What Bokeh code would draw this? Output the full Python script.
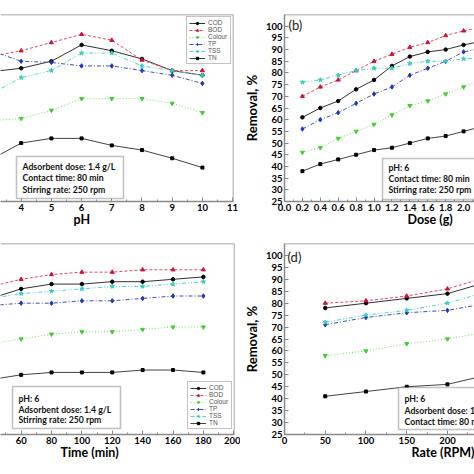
from bokeh.plotting import figure
from bokeh.layouts import row, column
from bokeh.models import (Range1d, Span, Label, Title, SingleIntervalTicker, FixedTicker,
                          PrintfTickFormatter, BoxAnnotation)
from bokeh.embed import file_html
from bokeh.resources import INLINE

SERIES = ["COD", "BOD", "Colour", "TP", "TSS", "TN"]

# (a) effect of pH
ph = [3, 4, 5, 6, 7, 8, 9, 10]
ph_cod = [80.5, 82, 85, 92, 89.5, 86, 81, 79]
ph_bod = [87, 89.5, 93, 96.5, 94, 85.5, 81, 81]
ph_colour = [59.5, 60.5, 64, 69, 69, 69, 67, 63]
ph_tp = [89.5, 85, 84.5, 83, 83, 81, 79, 75.5]
ph_tss = [71, 78, 81, 88.5, 88.5, 83, 81, 79]
ph_tn = [43, 50, 52, 52, 49, 47, 43.5, 39.5]

# (b) effect of dose
dose = [0.2, 0.4, 0.6, 0.8, 1.0, 1.2, 1.4, 1.6, 1.8, 2.0, 2.2]
dose_cod = [61, 65, 68, 73, 77, 83, 87, 89, 90, 92, 93.5]
dose_bod = [70, 74, 77, 81, 85, 88, 91, 93, 96, 98, 99.5]
dose_colour = [46, 48, 52, 55, 58, 62, 66, 68, 71, 74, 77]
dose_tp = [56, 60, 63, 67, 71, 74, 79, 82, 85, 89, 90.5]
dose_tss = [76, 77, 79, 81, 82, 82, 84, 85, 85, 86, 86.5]
dose_tn = [38, 41, 43, 45, 47, 48, 50, 52, 53, 55, 57]

# (c) effect of contact time
time_min = [40, 60, 80, 100, 120, 140, 160, 180]
time_cod = [82, 86, 88, 88, 89, 89, 90, 91]
time_bod = [87, 90, 92, 93, 93, 94, 94, 94]
time_colour = [63, 65, 67, 68, 68, 69, 70, 70]
time_tp = [79, 80, 80, 81, 81, 82, 83, 83]
time_tss = [82, 84, 85, 86, 87, 87, 88, 89]
time_tn = [48, 50, 51, 51, 51, 52, 52, 51]

# (d) effect of stirring rate
rate = [50, 100, 150, 200, 250]
rate_cod = [78, 80, 82, 84, 89]
rate_bod = [80, 81, 83, 86, 91]
rate_colour = [58, 60, 63, 65, 68]
rate_tp = [71, 74, 76, 77, 80]
rate_tss = [72, 75, 77, 80, 85]
rate_tn = [41, 43, 45, 46, 50]

Y_TICKS = list(range(25, 101, 5))

STYLE = {
    "COD": dict(line="#333333", mark="#000000", dash="solid", marker="circle", size=3.5),
    "BOD": dict(line="#e04a60", mark="#d0103a", dash="3 2", marker="triangle", size=4),
    "Colour": dict(line="#78dd66", mark="#44cc33", dash="1 2", marker="inverted_triangle", size=4),
    "TP": dict(line="#4050b8", mark="#2233bb", dash="4 2 1 2", marker="diamond", size=4.5),
    "TSS": dict(line="#48d8c8", mark="#30d0c0", dash="4 2 1 2 1 2", marker="star", size=4.5),
    "TN": dict(line="#444444", mark="#000000", dash="solid", marker="square", size=3),
}

FONT = "Lato"
AX = "#8a8a8a"


def make_panel(width, height, xr, bl, br, bt, bb, xticker, xlabel, xoff, xfmt=None, show_y=True):
    p = figure(width=width, height=height, x_range=Range1d(*xr), y_range=Range1d(25, 105),
               output_backend="svg", toolbar_location=None,
               y_axis_location="left" if show_y else None,
               min_border_left=bl, min_border_right=br, min_border_top=bt, min_border_bottom=bb)
    p.outline_line_color = None
    p.grid.visible = False
    p.background_fill_color = "white"
    p.border_fill_color = "white"
    p.xaxis.ticker = xticker
    if xfmt is not None:
        p.xaxis.formatter = xfmt
    axes = list(p.xaxis) + (list(p.yaxis) if show_y else [])
    for ax in axes:
        ax.axis_line_color = AX
        ax.axis_line_width = 1.5
        ax.major_tick_line_color = AX
        ax.minor_tick_line_color = AX
        ax.major_tick_in = 4
        ax.major_tick_out = 0
        ax.minor_tick_in = 2
        ax.minor_tick_out = 0
        ax.major_label_text_font = FONT
        ax.major_label_text_font_style = "bold"
        ax.major_label_text_font_size = "9.5px"
        ax.major_label_text_color = "black"
        ax.major_label_standoff = 2
    if show_y:
        p.yaxis.ticker = FixedTicker(ticks=Y_TICKS)
        p.yaxis.axis_label = "Removal, %"
        p.yaxis.axis_label_text_font = FONT
        p.yaxis.axis_label_text_font_style = "bold"
        p.yaxis.axis_label_text_font_size = "13px"
        p.yaxis.axis_label_text_color = "black"
        p.yaxis.axis_label_standoff = 3
    p.add_layout(Span(location=p.y_range.end, dimension="width", line_color=AX, line_width=1.5))
    if not show_y:
        p.add_layout(Span(location=p.x_range.end, dimension="height", line_color=AX, line_width=1.5))
    p.add_layout(Title(text=xlabel, align="left", offset=xoff, standoff=-8,
                       text_font=FONT, text_font_style="bold", text_font_size="12.5px",
                       text_color="black"), "below")
    return p


def add_series(p, x, ys, legend=True):
    for name, y in zip(SERIES, ys):
        st = STYLE[name]
        kw = dict(legend_label=name) if legend else {}
        p.line(x, y, line_color=st["line"], line_dash=st["dash"], line_width=1.0, **kw)
        p.scatter(x, y, marker=st["marker"], size=st["size"], fill_color=st["mark"],
                  line_color=st["mark"], **kw)


def style_legend(p, loc, margin):
    lg = p.legend[0]
    lg.location = loc
    lg.margin = margin
    lg.padding = 2
    lg.spacing = 0
    lg.label_text_font = "Liberation Sans"
    lg.label_text_font_size = "6.5px"
    lg.label_text_color = "#555555"
    lg.label_height = 6
    lg.label_standoff = 3
    lg.glyph_width = 16
    lg.glyph_height = 6
    lg.border_line_color = "#888888"
    lg.border_line_width = 1
    lg.background_fill_alpha = 1


def add_box(p, left, right, top, bottom, tx, ty, lines):
    p.add_layout(BoxAnnotation(left=left, right=right, top=top, bottom=bottom,
                               left_units="screen", right_units="screen",
                               top_units="screen", bottom_units="screen",
                               fill_color="white", fill_alpha=1,
                               line_color="#333333", line_width=1.5))
    for t, y in zip(lines, ty):
        p.add_layout(Label(x=tx, y=y, x_units="screen", y_units="screen", text=t,
                           text_font=FONT, text_font_style="bold", text_font_size="8.7px",
                           text_color="#111111", text_align="left", text_baseline="middle"))


def add_tag(p, x, y, text):
    p.add_layout(Label(x=x, y=y, x_units="screen", y_units="screen", text=text,
                       text_font=FONT, text_font_size="13px", text_color="#222222",
                       text_align="left", text_baseline="top"))


# panel (a)
pa = make_panel(240, 234, (3.315, 11.03), 0, 7, 14, 33,
                SingleIntervalTicker(interval=1, num_minor_ticks=2), "pH", 73, show_y=False)
add_series(pa, ph, [ph_cod, ph_bod, ph_colour, ph_tp, ph_tss, ph_tn])
style_legend(pa, "top_right", 2)
add_box(pa, 16, 123, 45, 3, 22, [35.3, 23.7, 11.7],
        ["Adsorbent dose: 1.4 g/L", "Contact time: 80 min", "Stirring rate: 250 rpm"])

# panel (b)
pb = make_panel(234, 234, (0, 2.122), 43, 0, 14, 33,
                SingleIntervalTicker(interval=0.2, num_minor_ticks=2), "Dose (g)", 123,
                xfmt=PrintfTickFormatter(format="%.1f"))
add_series(pb, dose, [dose_cod, dose_bod, dose_colour, dose_tp, dose_tss, dose_tn], legend=False)
add_tag(pb, 4, 185, "(b)")
add_box(pb, 98, 240, 43, 2, 104, [34.3, 22.7, 11.7],
        ["pH: 6", "Contact time: 80 min", "Stirring rate: 250 rpm"])

# panel (c)
pc = make_panel(240, 240, (46.4, 200.5), 0, 6, 9, 40,
                SingleIntervalTicker(interval=20, num_minor_ticks=2), "Time (min)", 60, show_y=False)
add_series(pc, time_min, [time_cod, time_bod, time_colour, time_tp, time_tss, time_tn])
style_legend(pc, (187, 5), 0)
add_box(pc, 12, 120, 48, 6, 18, [36, 25.3, 14.7],
        ["pH: 6", "Adsorbent dose: 1.4 g/L", "Stirring rate: 250 rpm"])

# panel (d)
pd_ = make_panel(234, 240, (0, 233.2), 40, 0, 9, 40,
                 SingleIntervalTicker(interval=50, num_minor_ticks=2), "Rate (RPM)", 127)
add_series(pd_, rate, [rate_cod, rate_bod, rate_colour, rate_tp, rate_tss, rate_tn], legend=False)
add_tag(pd_, 3, 186, "(d)")
add_box(pd_, 114, 240, 47, 5, 120, [36, 24.3, 13.3],
        ["pH: 6", "Adsorbent dose: 1.4 g/L", "Contact time: 80 min"])

layout = column(row(pa, pb), row(pc, pd_))
open("out.html", "w").write(file_html(layout, INLINE))
